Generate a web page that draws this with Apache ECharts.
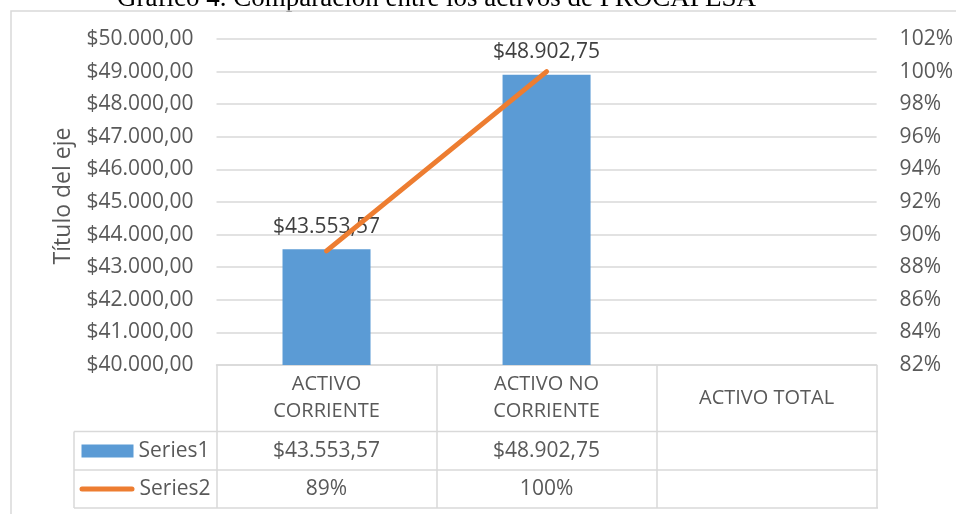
<!DOCTYPE html>
<html>
<head>
<meta charset="utf-8">
<script src="https://cdn.jsdelivr.net/npm/echarts@6/dist/echarts.min.js"></script>
<style>
  html, body { margin: 0; padding: 0; background: #fff; }
  #chart { width: 956px; height: 514px; }
</style>
</head>
<body>
<div id="chart"></div>
<script>
// datos del gráfico
var categorias = ['ACTIVO\nCORRIENTE', 'ACTIVO NO\nCORRIENTE', 'ACTIVO TOTAL'];
var series1 = [43553.57, 48902.75, null];
var series2 = [89, 100, null];
var nombres = ['Series1', 'Series2'];
var ejeIzq = { min: 40000, max: 50000, interval: 1000 };
var ejeDer = { min: 82, max: 102, interval: 2 };

var FUENTE = '"Open Sans", "Liberation Sans", sans-serif';
var GRIS = '#595959';
var LINEA = '#d9d9d9';

// formato moneda estilo es: $43.553,57
function moneda(v) {
    if (v == null) return '';
    var partes = Number(v).toFixed(2).split('.');
    var entero = partes[0].replace(/\B(?=(\d{3})+(?!\d))/g, '.');
    return '$' + entero + ',' + partes[1];
}
function porcentaje(v) {
    if (v == null) return '';
    return v + '%';
}

// posiciones de la tabla de datos
var G_LEFT = 216.5, G_RIGHT = 878, G_TOP = 39, G_BOTTOM = 365;
var FILA1 = 431.5, FILA2 = 470, FILA3 = 508, TABLA_X = 74;

var myChart = echarts.init(document.getElementById('chart'));

var option = {
    animation: false,
    textStyle: { fontFamily: FUENTE },
    grid: {
        left: G_LEFT,
        right: 956 - G_RIGHT,
        top: G_TOP,
        height: G_BOTTOM - G_TOP,
        containLabel: false
    },
    legend: [
        {
            data: [{ name: nombres[0], icon: 'rect' }],
            left: 81.5, top: 451 - 13, padding: 0,
            itemWidth: 52, itemHeight: 13, itemGap: 0,
            selectedMode: false,
            textStyle: { fontSize: 21, color: GRIS, lineHeight: 26, fontFamily: FUENTE }
        },
        {
            data: [{
                name: nombres[1],
                icon: 'path://M2.5,0 L52.5,0 A2.5,2.5 0 0 1 52.5,5 L2.5,5 A2.5,2.5 0 0 1 2.5,0 Z'
            }],
            left: 79.5, top: 489 - 13, padding: 0,
            itemWidth: 55, itemHeight: 5, itemGap: 0,
            selectedMode: false,
            textStyle: { fontSize: 21, color: GRIS, lineHeight: 26, fontFamily: FUENTE }
        }
    ],
    xAxis: [
        {
            type: 'category',
            data: categorias,
            position: 'bottom',
            axisLine: { show: true, lineStyle: { color: LINEA, width: 1.5 } },
            axisTick: { show: true, length: FILA3 - G_BOTTOM, lineStyle: { color: LINEA, width: 1.5 } },
            axisLabel: {
                margin: 33, verticalAlign: 'middle', fontSize: 20, lineHeight: 27,
                color: GRIS, fontFamily: FUENTE, interval: 0
            },
            splitLine: { show: false }
        },
        {
            type: 'category',
            data: categorias,
            position: 'bottom',
            axisLine: { show: false },
            axisTick: { show: false },
            axisLabel: {
                margin: 451 - G_BOTTOM, verticalAlign: 'middle', fontSize: 21,
                color: GRIS, fontFamily: FUENTE, interval: 0,
                formatter: function (val, i) { return moneda(series1[i]); }
            }
        },
        {
            type: 'category',
            data: categorias,
            position: 'bottom',
            axisLine: { show: false },
            axisTick: { show: false },
            axisLabel: {
                margin: 489 - G_BOTTOM, verticalAlign: 'middle', fontSize: 21,
                color: GRIS, fontFamily: FUENTE, interval: 0,
                formatter: function (val, i) { return porcentaje(series2[i]); }
            }
        }
    ],
    yAxis: [
        {
            type: 'value',
            min: ejeIzq.min, max: ejeIzq.max, interval: ejeIzq.interval,
            name: 'Título del eje',
            nameLocation: 'middle',
            nameGap: 142,
            nameRotate: 90,
            nameTextStyle: { fontSize: 23, color: GRIS, fontFamily: FUENTE, padding: [0, 0, 0, 12] },
            axisLine: { show: false },
            axisTick: { show: false },
            axisLabel: { margin: 23, fontSize: 21, color: GRIS, fontFamily: FUENTE, formatter: moneda },
            splitLine: { show: true, lineStyle: { color: LINEA, width: 1.5 } }
        },
        {
            type: 'value',
            min: ejeDer.min, max: ejeDer.max, interval: ejeDer.interval,
            position: 'right',
            axisLine: { show: false },
            axisTick: { show: false },
            axisLabel: { margin: 23, fontSize: 21, color: GRIS, fontFamily: FUENTE, formatter: porcentaje },
            splitLine: { show: false }
        }
    ],
    series: [
        {
            name: nombres[0],
            type: 'bar',
            data: series1,
            barWidth: '40%',
            itemStyle: { color: '#5B9BD5' },
            label: {
                show: true, position: 'top', distance: 12,
                fontSize: 21, color: '#404040', fontFamily: FUENTE,
                formatter: function (p) { return moneda(p.value); }
            }
        },
        {
            name: nombres[1],
            type: 'line',
            yAxisIndex: 1,
            data: series2,
            symbol: 'none',
            z: 5,
            itemStyle: { color: '#ED7D31' },
            lineStyle: { color: '#ED7D31', width: 5, cap: 'round' }
        }
    ],
    graphic: [
        {
            type: 'text', left: 117, top: -15,
            style: {
                text: 'Gráfico 4. Comparación entre los activos de PROCAPESA',
                font: '27px "Liberation Serif", "Times New Roman", serif',
                fill: '#000'
            }
        },
        {
            type: 'rect', silent: true,
            shape: { x: 11, y: 11, width: 1000, height: 600 },
            style: { fill: 'none', stroke: LINEA, lineWidth: 1.5 }
        },
        { type: 'line', shape: { x1: TABLA_X, y1: FILA1, x2: G_RIGHT, y2: FILA1 }, style: { stroke: LINEA, lineWidth: 1.5 } },
        { type: 'line', shape: { x1: TABLA_X, y1: FILA2, x2: G_RIGHT, y2: FILA2 }, style: { stroke: LINEA, lineWidth: 1.5 } },
        { type: 'line', shape: { x1: TABLA_X, y1: FILA3, x2: G_RIGHT, y2: FILA3 }, style: { stroke: LINEA, lineWidth: 1.5 } },
        { type: 'line', shape: { x1: TABLA_X, y1: FILA1, x2: TABLA_X, y2: FILA3 }, style: { stroke: LINEA, lineWidth: 1.5 } }
    ]
};

myChart.setOption(option);
</script>
</body>
</html>
